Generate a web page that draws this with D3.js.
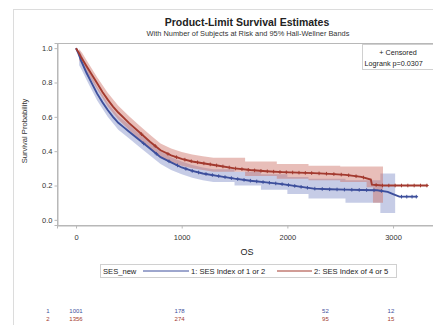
<!DOCTYPE html>
<html>
<head>
<meta charset="utf-8">
<script src="https://cdn.jsdelivr.net/npm/d3@7"></script>
<style>
  body { margin: 0; background: #fff; }
  svg { display: block; font-family: 'Liberation Sans', Arial, sans-serif; }
</style>
</head>
<body>
<div id="chart"></div>
<script>
// ── Data ──────────────────────────────────────────────────────────────────
const groups = ['1: SES Index of 1 or 2', '2: SES Index of 4 or 5']
const groupIds = ['1', '2']

const kmTime1 = [0, 25, 50, 100, 150, 200, 250, 300, 350, 400, 450, 500, 600, 700, 800, 900, 1000, 1100, 1200, 1350, 1500, 1650, 1800, 1950, 2100, 2250, 2400, 2550, 2700, 2850, 2950, 3000, 3060, 3230]
const kmSurv1 = [1, 0.965, 0.925, 0.855, 0.795, 0.735, 0.685, 0.64, 0.6, 0.565, 0.54, 0.515, 0.465, 0.415, 0.365, 0.335, 0.305, 0.285, 0.27, 0.255, 0.24, 0.228, 0.218, 0.208, 0.195, 0.182, 0.178, 0.176, 0.174, 0.172, 0.163, 0.15, 0.135, 0.135]

const kmTime2 = [0, 25, 50, 100, 150, 200, 250, 300, 350, 400, 450, 500, 600, 700, 800, 900, 1000, 1100, 1200, 1350, 1500, 1650, 1800, 1950, 2100, 2250, 2400, 2550, 2700, 2790, 2800, 2900, 3330]
const kmSurv2 = [1, 0.975, 0.945, 0.895, 0.845, 0.795, 0.745, 0.7, 0.66, 0.625, 0.595, 0.565, 0.51, 0.455, 0.405, 0.375, 0.355, 0.34, 0.33, 0.315, 0.3, 0.29, 0.283, 0.278, 0.275, 0.272, 0.268, 0.262, 0.25, 0.235, 0.205, 0.2, 0.2]

// Hall-Wellner bands: smooth early part, then stepped part
const bandTime1 = [30, 60, 100, 150, 200, 300, 400, 500, 600, 700, 800, 900, 1000, 1100, 1200, 1300]
const bandUp1 = [0.99, 0.95, 0.895, 0.835, 0.775, 0.68, 0.605, 0.555, 0.5, 0.45, 0.4, 0.365, 0.34, 0.32, 0.305, 0.295]
const bandLo1 = [0.9, 0.865, 0.815, 0.755, 0.695, 0.6, 0.525, 0.475, 0.425, 0.375, 0.325, 0.29, 0.265, 0.245, 0.23, 0.22]
const stepTime1 = [1300, 1500, 1750, 2000, 2200, 2550, 2880, 3020]
const stepUp1 = [0.295, 0.28, 0.265, 0.25, 0.24, 0.23, 0.27, 0.27]
const stepLo1 = [0.22, 0.2, 0.175, 0.15, 0.125, 0.1, 0.04, 0.04]

const bandTime2 = [30, 60, 100, 150, 200, 300, 400, 500, 600, 700, 800, 900, 1000, 1100, 1200, 1300]
const bandUp2 = [0.995, 0.97, 0.93, 0.88, 0.83, 0.74, 0.665, 0.605, 0.55, 0.495, 0.445, 0.415, 0.395, 0.38, 0.37, 0.362]
const bandLo2 = [0.93, 0.9, 0.86, 0.81, 0.76, 0.66, 0.585, 0.525, 0.47, 0.415, 0.365, 0.335, 0.315, 0.3, 0.29, 0.28]
const stepTime2 = [1300, 1600, 1900, 2200, 2500, 2750, 2810, 2905]
const stepUp2 = [0.362, 0.34, 0.325, 0.315, 0.31, 0.31, 0.31, 0.31]
const stepLo2 = [0.28, 0.255, 0.24, 0.23, 0.22, 0.19, 0.1, 0.1]

const censor1 = [640, 760, 880, 960, 1040, 1100, 1160, 1230, 1290, 1350, 1410, 1470, 1530, 1590, 1650, 1710, 1770, 1830, 1890, 1950, 2010, 2070, 2130, 2190, 2260, 2330, 2400, 2470, 2540, 2610, 2680, 2750, 2820, 2890, 3080, 3130, 3180, 3220]
const censor2 = [620, 750, 870, 950, 1030, 1090, 1150, 1210, 1270, 1330, 1390, 1450, 1510, 1570, 1630, 1690, 1750, 1810, 1870, 1930, 1990, 2050, 2110, 2170, 2230, 2300, 2370, 2440, 2510, 2580, 2650, 2720, 2840, 2900, 2960, 3020, 3080, 3140, 3200, 3260, 3320]

const xTicks = [0, 1000, 2000, 3000]
const yTicks = [0, 0.2, 0.4, 0.6, 0.8, 1.0]
const riskTimes = [0, 980, 2360, 2980]
const atRisk1 = [1001, 178, 52, 12]
const atRisk2 = [1356, 274, 95, 15]

const colors = ['#3d4f9c', '#a33a2f']
const bandColors = ['rgba(118,134,196,0.42)', 'rgba(205,110,100,0.45)']

// ── Layout ────────────────────────────────────────────────────────────────
const W = 433, H = 325
const plot = { left: 57, right: 437, top: 43, bottom: 225 }

const svg = d3.select('#chart').append('svg').attr('width', W).attr('height', H)

svg.append('rect').attr('x', 13.5).attr('y', 9.5).attr('width', 440).attr('height', 330)
  .attr('fill', '#fff').attr('stroke', '#dcdcdc')

const x = d3.scaleLinear().domain([-180, 3416]).range([plot.left, plot.right])
const y = d3.scaleLinear().domain([-0.03, 1.03]).range([plot.bottom, plot.top])

// ── Titles ────────────────────────────────────────────────────────────────
svg.append('text').attr('x', 247).attr('y', 25.5).attr('text-anchor', 'middle')
  .style('font-size', '10.5px').style('font-weight', 'bold').attr('fill', '#222')
  .text('Product-Limit Survival Estimates')
svg.append('text').attr('x', 248).attr('y', 36).attr('text-anchor', 'middle')
  .style('font-size', '7.4px').attr('fill', '#333')
  .text('With Number of Subjects at Risk and 95% Hall-Wellner Bands')

// ── Plot frame ────────────────────────────────────────────────────────────
svg.append('clipPath').attr('id', 'clip').append('rect')
  .attr('x', plot.left).attr('y', plot.top).attr('width', plot.right - plot.left).attr('height', plot.bottom - plot.top)

svg.append('rect').attr('x', plot.left + 0.5).attr('y', plot.top + 0.5)
  .attr('width', plot.right - plot.left).attr('height', plot.bottom - plot.top)
  .attr('fill', '#fff').attr('stroke', '#b8b8b8')

const g = svg.append('g').attr('clip-path', 'url(#clip)')

// ── Bands ─────────────────────────────────────────────────────────────────
const bands = [
  { t: bandTime1, up: bandUp1, lo: bandLo1, st: stepTime1, su: stepUp1, sl: stepLo1 },
  { t: bandTime2, up: bandUp2, lo: bandLo2, st: stepTime2, su: stepUp2, sl: stepLo2 }
]
const smoothArea = d3.area().x(d => x(d[0])).y0(d => y(d[2])).y1(d => y(d[1]))
const stepArea = d3.area().curve(d3.curveStepAfter).x(d => x(d[0])).y0(d => y(d[2])).y1(d => y(d[1]))
bands.forEach((b, i) => {
  const pts = b.t.map((t, j) => [t, b.up[j], b.lo[j]])
  const steps = b.st.map((t, j) => [t, b.su[j], b.sl[j]])
  g.append('path').attr('d', smoothArea(pts) + stepArea(steps)).attr('fill', bandColors[i])
})

// ── Survival curves ──────────────────────────────────────────────────────
const curves = [
  { t: kmTime1, s: kmSurv1, c: censor1 },
  { t: kmTime2, s: kmSurv2, c: censor2 }
]
const line = d3.line().x(d => x(d[0])).y(d => y(d[1]))
curves.forEach((k, i) => {
  const pts = k.t.map((t, j) => [t, k.s[j]])
  g.append('path').attr('d', line(pts)).attr('fill', 'none')
    .attr('stroke', colors[i]).attr('stroke-width', 1.9)
  const surv = d3.scaleLinear().domain(k.t).range(k.s).clamp(true)
  g.selectAll(null).data(k.c).join('path')
    .attr('d', d => `M${x(d) - 1.8},${y(surv(d))}h3.6M${x(d)},${y(surv(d)) - 1.8}v3.6`)
    .attr('stroke', colors[i]).attr('stroke-width', 1)
})

// ── Axes ──────────────────────────────────────────────────────────────────
const yAxis = svg.append('g').attr('transform', `translate(${plot.left + 0.5},0)`)
  .call(d3.axisLeft(y).tickValues(yTicks).tickFormat(d3.format('.1f')).tickSize(3).tickPadding(2))
const xAxis = svg.append('g').attr('transform', `translate(0,${plot.bottom + 0.5})`)
  .call(d3.axisBottom(x).tickValues(xTicks).tickFormat(d3.format('d')).tickSize(3).tickPadding(6))
;[xAxis, yAxis].forEach(a => {
  a.select('.domain').attr('stroke', '#b8b8b8')
  a.selectAll('.tick line').attr('stroke', '#b8b8b8')
  a.selectAll('.tick text').attr('fill', '#333').style('font-size', '7.5px')
    .style('font-family', "'Liberation Sans', Arial, sans-serif")
})

svg.append('text').attr('transform', 'translate(27,131) rotate(-90)').attr('text-anchor', 'middle')
  .style('font-size', '7.6px').attr('fill', '#333').text('Survival Probability')
svg.append('text').attr('x', 247).attr('y', 255).attr('text-anchor', 'middle')
  .style('font-size', '9px').attr('fill', '#222').text('OS')

// ── Inset legend ──────────────────────────────────────────────────────────
svg.append('rect').attr('x', 362.5).attr('y', 44.5).attr('width', 80).attr('height', 25)
  .attr('fill', '#fff').attr('stroke', '#d0d0d0')
svg.append('text').attr('x', 398).attr('y', 55).attr('text-anchor', 'middle')
  .style('font-size', '7.2px').attr('fill', '#222').text('+ Censored')
svg.append('text').attr('x', 364.5).attr('y', 66).style('font-size', '7.2px')
  .attr('fill', '#222').text('Logrank p=0.0307')

// ── Group legend ──────────────────────────────────────────────────────────
svg.append('rect').attr('x', 100.5).attr('y', 264.5).attr('width', 296).attr('height', 13)
  .attr('fill', '#fff').attr('stroke', '#d0d0d0')
svg.append('text').attr('x', 103).attr('y', 274).style('font-size', '7.6px').attr('fill', '#222').text('SES_new')
const legX = [[143, 189], [277, 312]]
groups.forEach((name, i) => {
  svg.append('line').attr('x1', legX[i][0]).attr('x2', legX[i][1]).attr('y1', 271).attr('y2', 271)
    .attr('stroke', colors[i]).attr('stroke-width', 1)
  svg.append('text').attr('x', legX[i][1] + 2).attr('y', 274).style('font-size', '7.6px')
    .attr('fill', '#222').text(name)
})

// ── At-risk table ─────────────────────────────────────────────────────────
;[atRisk1, atRisk2].forEach((row, i) => {
  const ty = 313 + i * 8
  svg.append('text').attr('x', 48).attr('y', ty).attr('text-anchor', 'middle')
    .style('font-size', '6px').attr('fill', colors[i]).text(groupIds[i])
  svg.selectAll(null).data(row).join('text')
    .attr('x', (d, j) => x(riskTimes[j])).attr('y', ty).attr('text-anchor', 'middle')
    .style('font-size', '6px').attr('fill', colors[i]).text(d => d)
})
</script>
</body>
</html>
